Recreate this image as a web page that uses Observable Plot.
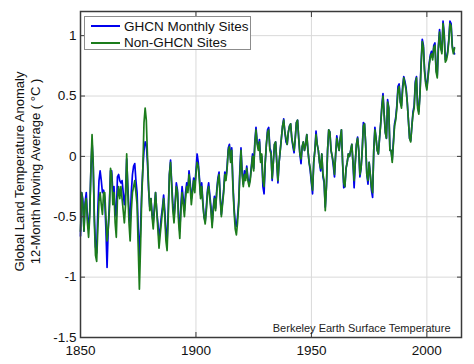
<!DOCTYPE html>
<html>
<head>
<meta charset="utf-8">
<script src="https://cdn.jsdelivr.net/npm/d3@7"></script>
<script src="https://cdn.jsdelivr.net/npm/@observablehq/plot@0.6"></script>
<style>
  html, body { margin: 0; padding: 0; background: #fff; }
  #wrap { position: relative; width: 474px; height: 364px; font-family: Arial, "Liberation Sans", sans-serif; }
  #legend { position: absolute; left: 84px; top: 16px; width: 167px; height: 34px; background: #fff;
            border: 1px solid #8c8c8c; box-sizing: border-box; font-size: 13.5px; color: #111; }
  #legend .row { position: absolute; left: 6px; height: 16px; display: flex; align-items: center; }
  #legend .sw { width: 29px; height: 0; border-top: 2px solid; margin-right: 4px; }
</style>
</head>
<body>
<div id="wrap"></div>
<script>
// ---- data (12-month moving average, sampled every half year from 1850) ----
const startYear = 1850;
const stepYears = 0.5;
const seriesNames = ["GHCN Monthly Sites", "Non-GHCN Sites"];
const seriesColors = ["#0000ee", "#1c7c1c"];
const xTicks = [1850, 1900, 1950, 2000];
const yTicks = [-1.5, -1, -0.5, 0, 0.5, 1];
const yLabel = "Global Land Temperature Anomaly\n12-Month Moving Average ( °C )";
const caption = "Berkeley Earth Surface Temperature";

const ghcn = [
  -0.66,-0.30,-0.35,-0.62,-0.38,-0.30,-0.50,-0.60,-0.45,-0.12, 0.12,-0.08,-0.50,-0.75,-0.80,-0.45,-0.20,-0.12,-0.20,-0.30,
  -0.28,-0.35,-0.60,-0.92,-0.60,-0.40,-0.12,-0.12,-0.30,-0.25,-0.45,-0.50,-0.17,-0.15,-0.20,-0.22,-0.20,-0.30,-0.40,-0.30,
  -0.02,-0.25,-0.45,-0.55,-0.30,-0.15,-0.08,-0.06,-0.20,-0.30,-0.60,-0.85,-0.60,-0.30,-0.10, 0.05, 0.12, 0.10,-0.05,-0.28,
  -0.42,-0.35,-0.48,-0.55,-0.42,-0.30,-0.45,-0.55,-0.68,-0.60,-0.50,-0.42,-0.32,-0.45,-0.62,-0.70,-0.45,-0.15,-0.03,-0.22,
  -0.40,-0.50,-0.38,-0.22,-0.28,-0.50,-0.62,-0.40,-0.25,-0.35,-0.45,-0.30,-0.22,-0.28,-0.12,-0.22,-0.35,-0.28,-0.18,-0.25,
  -0.12, 0.02,-0.05,-0.18,-0.32,-0.22,-0.38,-0.50,-0.54,-0.42,-0.28,-0.22,-0.32,-0.42,-0.56,-0.42,-0.33,-0.43,-0.28,-0.18,
  -0.13,-0.33,-0.48,-0.38,-0.28,-0.13,-0.18,-0.08, 0.07, 0.10,-0.03, 0.07,-0.22,-0.42,-0.55,-0.58,-0.50,-0.38,-0.12, 0.07,
  -0.13,-0.23,-0.12,-0.18,-0.08,-0.18,-0.23,-0.18,-0.08, 0.02,-0.10, 0.12, 0.24, 0.12, 0.07, 0.14,-0.03, 0.00,-0.25,-0.31,
  -0.05, 0.10, 0.22, 0.24, 0.07, 0.04,-0.20,-0.05, 0.10, 0.12,-0.05,-0.22,-0.05, 0.05, 0.15, 0.25, 0.31, 0.20, 0.12, 0.10,
   0.20, 0.25, 0.27, 0.15, 0.08, 0.03, 0.15, 0.28, 0.30, 0.15, 0.02,-0.06, 0.08, 0.12, 0.05, 0.10, 0.18, 0.05,-0.05,-0.12,
  -0.22,-0.31,-0.05, 0.05, 0.21, 0.10, 0.05,-0.05,-0.12, 0.02,-0.17,-0.22,-0.42,-0.25, 0.05, 0.22, 0.20, 0.05, 0.00,-0.08,
  -0.17, 0.02, 0.17, 0.10, 0.05, 0.15, 0.22,-0.05,-0.26,-0.25,-0.10,-0.05, 0.02, 0.00, 0.05, 0.10,-0.05,-0.26,-0.05, 0.10,
   0.16, 0.05,-0.17,-0.10, 0.05, 0.28, 0.27, 0.10,-0.15,-0.23,-0.05,-0.15,-0.28,-0.34, 0.05, 0.24, 0.15, 0.05, 0.02, 0.15,
   0.27, 0.42, 0.52, 0.35, 0.20, 0.15, 0.47, 0.40, 0.05, 0.05,-0.03, 0.12, 0.27, 0.32, 0.42, 0.58, 0.60, 0.45, 0.42, 0.58,
   0.66, 0.62, 0.57, 0.45, 0.30, 0.15, 0.13, 0.25, 0.37, 0.42, 0.62, 0.66, 0.42, 0.37, 0.52, 0.77, 0.97, 0.92, 0.72, 0.62,
   0.57, 0.67, 0.77, 0.84, 0.87, 0.82, 0.92, 0.94, 0.72, 0.67, 0.92, 1.05, 0.90, 0.87, 1.12, 1.02, 0.80, 0.82, 0.87, 0.97,
   1.12, 1.10, 0.92, 0.87, 0.85
];

const nonGhcn = [
  -0.62,-0.30,-0.40,-0.62,-0.40,-0.35,-0.55,-0.67,-0.50,-0.10, 0.18,-0.05,-0.55,-0.82,-0.87,-0.60,-0.37,-0.30,-0.40,-0.48,
  -0.30,-0.30,-0.50,-0.70,-0.60,-0.45,-0.10,-0.15,-0.40,-0.30,-0.55,-0.67,-0.35,-0.25,-0.35,-0.25,-0.35,-0.45,-0.55,-0.40,
   0.02,-0.30,-0.55,-0.70,-0.45,-0.30,-0.25,-0.20,-0.30,-0.40,-0.75,-1.10,-0.75,-0.35,-0.10, 0.28, 0.40, 0.30, 0.00,-0.25,
  -0.45,-0.35,-0.50,-0.60,-0.45,-0.30,-0.45,-0.60,-0.76,-0.65,-0.55,-0.45,-0.35,-0.50,-0.70,-0.78,-0.50,-0.15,-0.05,-0.25,
  -0.45,-0.55,-0.40,-0.25,-0.30,-0.55,-0.68,-0.45,-0.30,-0.40,-0.50,-0.35,-0.25,-0.30,-0.15,-0.25,-0.40,-0.30,-0.20,-0.30,
  -0.15,-0.05,-0.08,-0.20,-0.35,-0.25,-0.40,-0.50,-0.56,-0.45,-0.30,-0.25,-0.35,-0.45,-0.59,-0.45,-0.35,-0.45,-0.30,-0.20,
  -0.15,-0.35,-0.50,-0.40,-0.30,-0.15,-0.20,-0.10, 0.05, 0.08,-0.05, 0.05,-0.25,-0.45,-0.60,-0.65,-0.55,-0.40,-0.15, 0.05,
  -0.15,-0.25,-0.15,-0.20,-0.10,-0.20,-0.25,-0.20,-0.10, 0.00,-0.12, 0.10, 0.22, 0.10, 0.05, 0.12,-0.05, 0.02,-0.20,-0.25,
  -0.05, 0.10, 0.20, 0.22, 0.05, 0.02,-0.18,-0.05, 0.10, 0.12,-0.05,-0.20,-0.05, 0.05, 0.15, 0.25, 0.30, 0.20, 0.15, 0.10,
   0.20, 0.25, 0.27, 0.15, 0.10, 0.05, 0.15, 0.28, 0.30, 0.15, 0.02,-0.02, 0.08, 0.12, 0.05, 0.10, 0.18, 0.05,-0.05,-0.10,
  -0.20,-0.28,-0.05, 0.05, 0.18, 0.10, 0.05,-0.05,-0.10, 0.02,-0.15,-0.20,-0.45,-0.25, 0.05, 0.22, 0.20, 0.05, 0.00,-0.05,
  -0.15, 0.02, 0.15, 0.10, 0.05, 0.15, 0.22,-0.05,-0.22,-0.25,-0.10,-0.05, 0.02, 0.00, 0.05, 0.10,-0.05,-0.20,-0.05, 0.10,
   0.15, 0.05,-0.15,-0.10, 0.05, 0.25, 0.27, 0.10,-0.15,-0.20,-0.05,-0.15,-0.25,-0.30, 0.05, 0.22, 0.15, 0.05, 0.02, 0.15,
   0.27, 0.40, 0.50, 0.35, 0.20, 0.15, 0.45, 0.40, 0.05, 0.05,-0.05, 0.10, 0.25, 0.30, 0.40, 0.55, 0.58, 0.45, 0.40, 0.55,
   0.65, 0.60, 0.55, 0.45, 0.30, 0.15, 0.12, 0.25, 0.35, 0.40, 0.60, 0.65, 0.40, 0.35, 0.50, 0.75, 0.95, 0.90, 0.70, 0.60,
   0.55, 0.65, 0.75, 0.82, 0.85, 0.80, 0.90, 0.92, 0.70, 0.65, 0.90, 1.03, 0.90, 0.85, 1.10, 1.00, 0.78, 0.80, 0.85, 0.95,
   1.10, 1.08, 0.90, 0.85, 0.90
];

// ---- build table ----
const toRows = (vals, name) => vals.map((v, i) => ({year: startYear + i * stepYears, value: v, series: name}));
const rowsG = toRows(ghcn, seriesNames[0]);
const rowsN = toRows(nonGhcn, seriesNames[1]);

const font = 'Arial, "Liberation Sans", sans-serif';
const axisColor = "#3a3a3a";

const chart = Plot.plot({
  width: 474,
  height: 364,
  marginLeft: 80,
  marginRight: 13,
  marginTop: 11,
  marginBottom: 27,
  style: {fontFamily: font, fontSize: "13.5px", color: "#111", background: "#fff"},
  x: {domain: [1850, 2015]},
  y: {domain: [-1.5, 1.2]},
  marks: [
    Plot.gridX(xTicks, {stroke: "#d9d9d9", strokeOpacity: 1}),
    Plot.gridY(yTicks, {stroke: "#d9d9d9", strokeOpacity: 1}),
    Plot.line(rowsG, {x: "year", y: "value", stroke: seriesColors[0], strokeWidth: 1.7}),
    Plot.line(rowsN, {x: "year", y: "value", stroke: seriesColors[1], strokeWidth: 1.7}),
    Plot.frame({stroke: axisColor, strokeWidth: 1.5}),
    Plot.axisX({anchor: "bottom", ticks: xTicks, tickSize: -5, tickPadding: 13, tickFormat: d => String(d), label: null, stroke: axisColor}),
    Plot.axisX({anchor: "top", ticks: xTicks, tickSize: -5, tickFormat: () => "", label: null, stroke: axisColor}),
    Plot.axisY({anchor: "left", ticks: yTicks, tickSize: -5, tickPadding: 9, tickFormat: d => String(d), label: null, stroke: axisColor}),
    Plot.axisY({anchor: "right", ticks: yTicks, tickSize: -5, tickFormat: () => "", label: null, stroke: axisColor}),
    Plot.text([yLabel], {frameAnchor: "left", textAnchor: "middle", lineAnchor: "middle", rotate: -90, dx: -54, dy: -3, lineHeight: 1.25, fontSize: 13, fill: "#111"}),
    Plot.text([caption], {frameAnchor: "bottom-right", textAnchor: "end", lineAnchor: "bottom", dx: -11, dy: -6, fontSize: 11, fill: "#222"})
  ]
});

const wrap = document.getElementById("wrap");
wrap.appendChild(chart);

// legend overlay inside the plot area
const legend = document.createElement("div");
legend.id = "legend";
seriesNames.forEach((name, i) => {
  const row = document.createElement("div");
  row.className = "row";
  row.style.top = (1 + i * 16.5) + "px";
  const sw = document.createElement("span");
  sw.className = "sw";
  sw.style.borderTopColor = seriesColors[i];
  const t = document.createElement("span");
  t.textContent = name;
  row.appendChild(sw);
  row.appendChild(t);
  legend.appendChild(row);
});
wrap.appendChild(legend);
</script>
</body>
</html>
